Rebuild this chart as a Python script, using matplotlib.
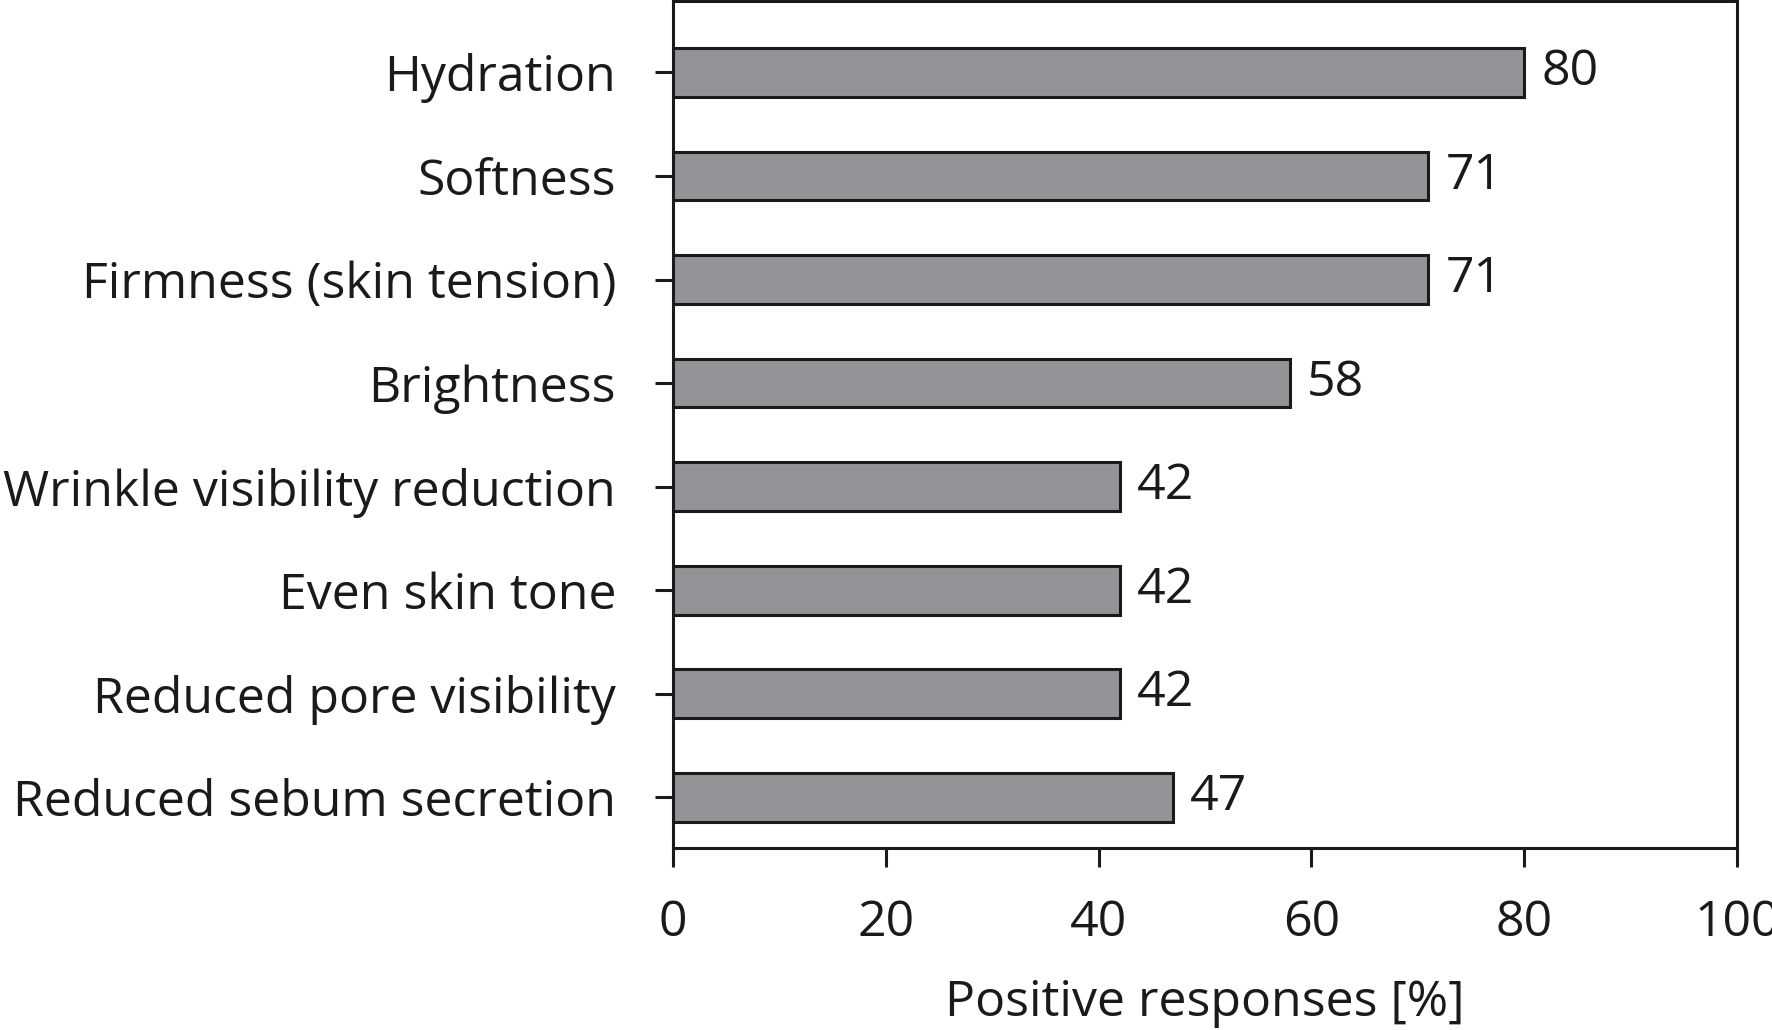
import matplotlib
matplotlib.use("Agg")
from matplotlib import pyplot as plt

plt.rcParams['font.family'] = ['Open Sans', 'DejaVu Sans']

categories = [
    'Reduced sebum secretion',
    'Reduced pore visibility',
    'Even skin tone',
    'Wrinkle visibility reduction',
    'Brightness',
    'Firmness (skin tension)',
    'Softness',
    'Hydration',
]
values = [47, 42, 42, 42, 58, 71, 71, 80]

fig = plt.figure(figsize=(17.72, 10.30), dpi=100)
ax = fig.add_axes([0.3798, 0.1767, 0.6004, 0.8223])

bars = ax.barh(categories, values, height=0.47, color='#929396',
               edgecolor='#1a1a1a', linewidth=2.2)

for bar, v in zip(bars, values):
    ax.text(v + 1.6, bar.get_y() + bar.get_height() / 2, str(v),
            va='center', ha='left', fontsize=36, color='#1a1a1a')

ax.set_xlim(0, 100)
ax.set_ylim(-0.49, 7.69)
ax.set_xticks([0, 20, 40, 60, 80, 100])

for s in ax.spines.values():
    s.set_linewidth(2.2)
    s.set_color('#1a1a1a')

ax.tick_params(axis='x', direction='out', length=13.5, width=2.2,
               labelsize=36, pad=23, colors='#1a1a1a')
ax.tick_params(axis='y', direction='out', length=13, width=2.2,
               labelsize=36, pad=28, colors='#1a1a1a')

ax.set_xlabel('Positive responses [%]', fontsize=36, labelpad=22,
              color='#1a1a1a')

fig.savefig('out.png', dpi=100)
